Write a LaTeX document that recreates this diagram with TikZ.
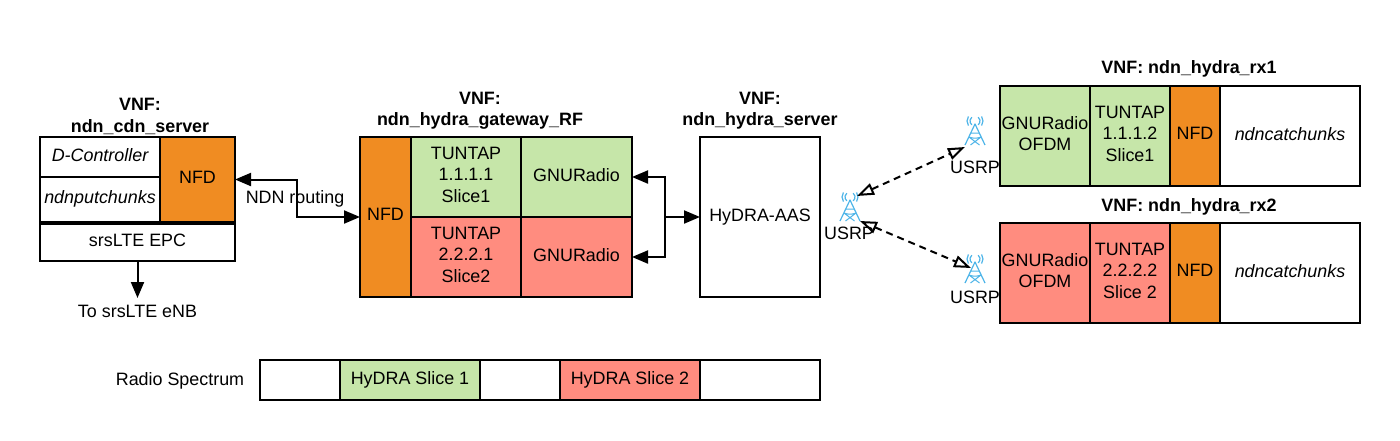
\documentclass[tikz,border=0pt]{standalone}
\usepackage{fontspec}
\setmainfont{Liberation Sans}
\usetikzlibrary{arrows.meta}
\definecolor{nfdorange}{HTML}{F08C22}
\definecolor{slicegreen}{HTML}{C6E6A9}
\definecolor{slicered}{HTML}{FF8C7F}
\definecolor{usrpblue}{HTML}{4DB4E8}
\tikzset{
  cell/.style={draw, line width=2pt, inner sep=0pt, outer sep=0pt, align=center, text depth=4.5pt, font=\fontsize{17.9}{21.5}\selectfont},
  tool/.style={cell, font=\fontsize{17.9}{21.5}\selectfont\itshape},
  plain/.style={inner sep=0pt, outer sep=0pt, align=center, font=\fontsize{17.9}{21.5}\selectfont},
  vnf/.style={inner sep=0pt, outer sep=0pt, align=center, font=\fontsize{17.9}{21.5}\selectfont\bfseries},
  wire/.style={line width=2pt, {Triangle[length=16pt,width=13pt]}-{Triangle[length=16pt,width=13pt]}},
  radio/.style={line width=2pt, dash pattern=on 7pt off 5pt, {Triangle[open,length=17pt,width=12pt]}-{Triangle[open,length=17pt,width=12pt]}},
  usrp/.pic={
    \draw[usrpblue, line width=1.2pt, line join=round] (-10,13) -- (0,-8) -- (10,13);
    \draw[usrpblue, line width=1pt] (-6,5) -- (4.5,13) (6,5) -- (-4.5,13) (-4,1) -- (4,1) (-6,5) to[bend right=20] (6,5);
    \draw[usrpblue, line width=1.2pt] (0,-11) ++(130:5) arc (130:230:5) (0,-11) ++(50:5) arc (50:-50:5);
    \draw[usrpblue, line width=1.2pt] (0,-11) ++(145:8) arc (145:215:8) (0,-11) ++(35:8) arc (35:-35:8);
  },
}
\begin{document}
\begin{tikzpicture}[x=1pt, y=-1pt]
  \useasboundingbox (0,0) rectangle (1400,440);

  % ndn_cdn_server
  \node[vnf] (cdntitle) at (140,116.5) {VNF:\\ndn\_cdn\_server};
  \node[tool, minimum width=120, minimum height=40] (dctrl) at (100,157) {D-Controller};
  \node[tool, minimum width=120, minimum height=45] (putchunks) at (100,199.5) {ndnputchunks};
  \node[cell, fill=nfdorange, minimum width=75, minimum height=85] (cdnnfd) at (197.5,179.5) {NFD};
  \node[cell, minimum width=195, minimum height=37] (epc) at (137.5,242) {srsLTE EPC};
  \node[plain] (enb) at (137.5,311) {To srsLTE eNB};

  % ndn_hydra_gateway_RF
  \node[vnf] (gwtitle) at (480,110.5) {VNF:\\ndn\_hydra\_gateway\_RF};
  \node[cell, fill=nfdorange, minimum width=51, minimum height=160] (gwnfd) at (385.5,217) {NFD};
  \node[cell, fill=slicegreen, minimum width=110, minimum height=80] (gwtuna) at (466,177) {TUNTAP\\1.1.1.1\\Slice1};
  \node[cell, fill=slicegreen, minimum width=111, minimum height=80] (gwgnua) at (576.5,177) {GNURadio};
  \node[cell, fill=slicered, minimum width=110, minimum height=80] (gwtunb) at (466,257) {TUNTAP\\2.2.2.1\\Slice2};
  \node[cell, fill=slicered, minimum width=111, minimum height=80] (gwgnub) at (576.5,257) {GNURadio};

  % ndn_hydra_server
  \node[vnf] (srvtitle) at (760,110.5) {VNF:\\ndn\_hydra\_server};
  \node[cell, minimum width=120, minimum height=160] (aas) at (760,217) {HyDRA-AAS};

  % usrp antennas
  \pic at (850,208) {usrp};
  \node[plain] (usrpa) at (849,233) {USRP};
  \pic at (975,132) {usrp};
  \node[plain] (usrpb) at (975,167) {USRP};
  \pic at (975,270) {usrp};
  \node[plain] (usrpc) at (975,297) {USRP};
  \coordinate (usrpaup) at (857,196);
  \coordinate (usrpadown) at (860,221);
  \coordinate (usrpbin) at (965,147);
  \coordinate (usrpcin) at (971,268);

  % ndn_hydra_rx1
  \node[vnf] (rxatitle) at (1189,68.5) {VNF: ndn\_hydra\_rx1};
  \node[cell, fill=slicegreen, minimum width=90, minimum height=100] (rxagnu) at (1045,136) {GNURadio\\OFDM};
  \node[cell, fill=slicegreen, minimum width=80, minimum height=100] (rxatun) at (1130,136) {TUNTAP\\1.1.1.2\\Slice1};
  \node[cell, fill=nfdorange, minimum width=50, minimum height=100] (rxanfd) at (1195,136) {NFD};
  \node[tool, minimum width=140, minimum height=100] (rxacatch) at (1290,136) {ndncatchunks};

  % ndn_hydra_rx2
  \node[vnf] (rxbtitle) at (1189,206.5) {VNF: ndn\_hydra\_rx2};
  \node[cell, fill=slicered, minimum width=90, minimum height=100] (rxbgnu) at (1045,273) {GNURadio\\OFDM};
  \node[cell, fill=slicered, minimum width=80, minimum height=100] (rxbtun) at (1130,273) {TUNTAP\\2.2.2.2\\Slice 2};
  \node[cell, fill=nfdorange, minimum width=50, minimum height=100] (rxbnfd) at (1195,273) {NFD};
  \node[tool, minimum width=140, minimum height=100] (rxbcatch) at (1290,273) {ndncatchunks};

  % radio spectrum
  \node[plain] (spectrum) at (180,380.5) {Radio Spectrum};
  \node[cell, minimum width=80, minimum height=40] (gapa) at (300,380) {};
  \node[cell, fill=slicegreen, minimum width=140, minimum height=40] (slicea) at (410,380) {HyDRA Slice 1};
  \node[cell, minimum width=80, minimum height=40] (gapb) at (520,380) {};
  \node[cell, fill=slicered, minimum width=140, minimum height=40] (sliceb) at (630,380) {HyDRA Slice 2};
  \node[cell, minimum width=120, minimum height=40] (gapc) at (760,380) {};

  % connectors
  \node[plain] (routing) at (295,199) {NDN routing};
  \coordinate (routemid) at (297,198);
  \coordinate (gwjoin) at (665,217);
  \draw[wire] (cdnnfd.east) -| (routemid) |- (gwnfd.west);
  \draw[wire, {Triangle[length=16pt,width=13pt]}-] (gwgnua.east) -| (gwjoin);
  \draw[wire, {Triangle[length=16pt,width=13pt]}-] (gwgnub.east) -| (gwjoin);
  \draw[wire, -{Triangle[length=16pt,width=13pt]}] (gwjoin) -- (aas.west);
  \coordinate (enbtip) at (137.5,298);
  \draw[wire, -{Triangle[length=16pt,width=13pt]}] (epc.south) -- (enbtip);
  \draw[radio] (usrpaup) -- (usrpbin);
  \draw[radio] (usrpadown) -- (usrpcin);
\end{tikzpicture}
\end{document}
